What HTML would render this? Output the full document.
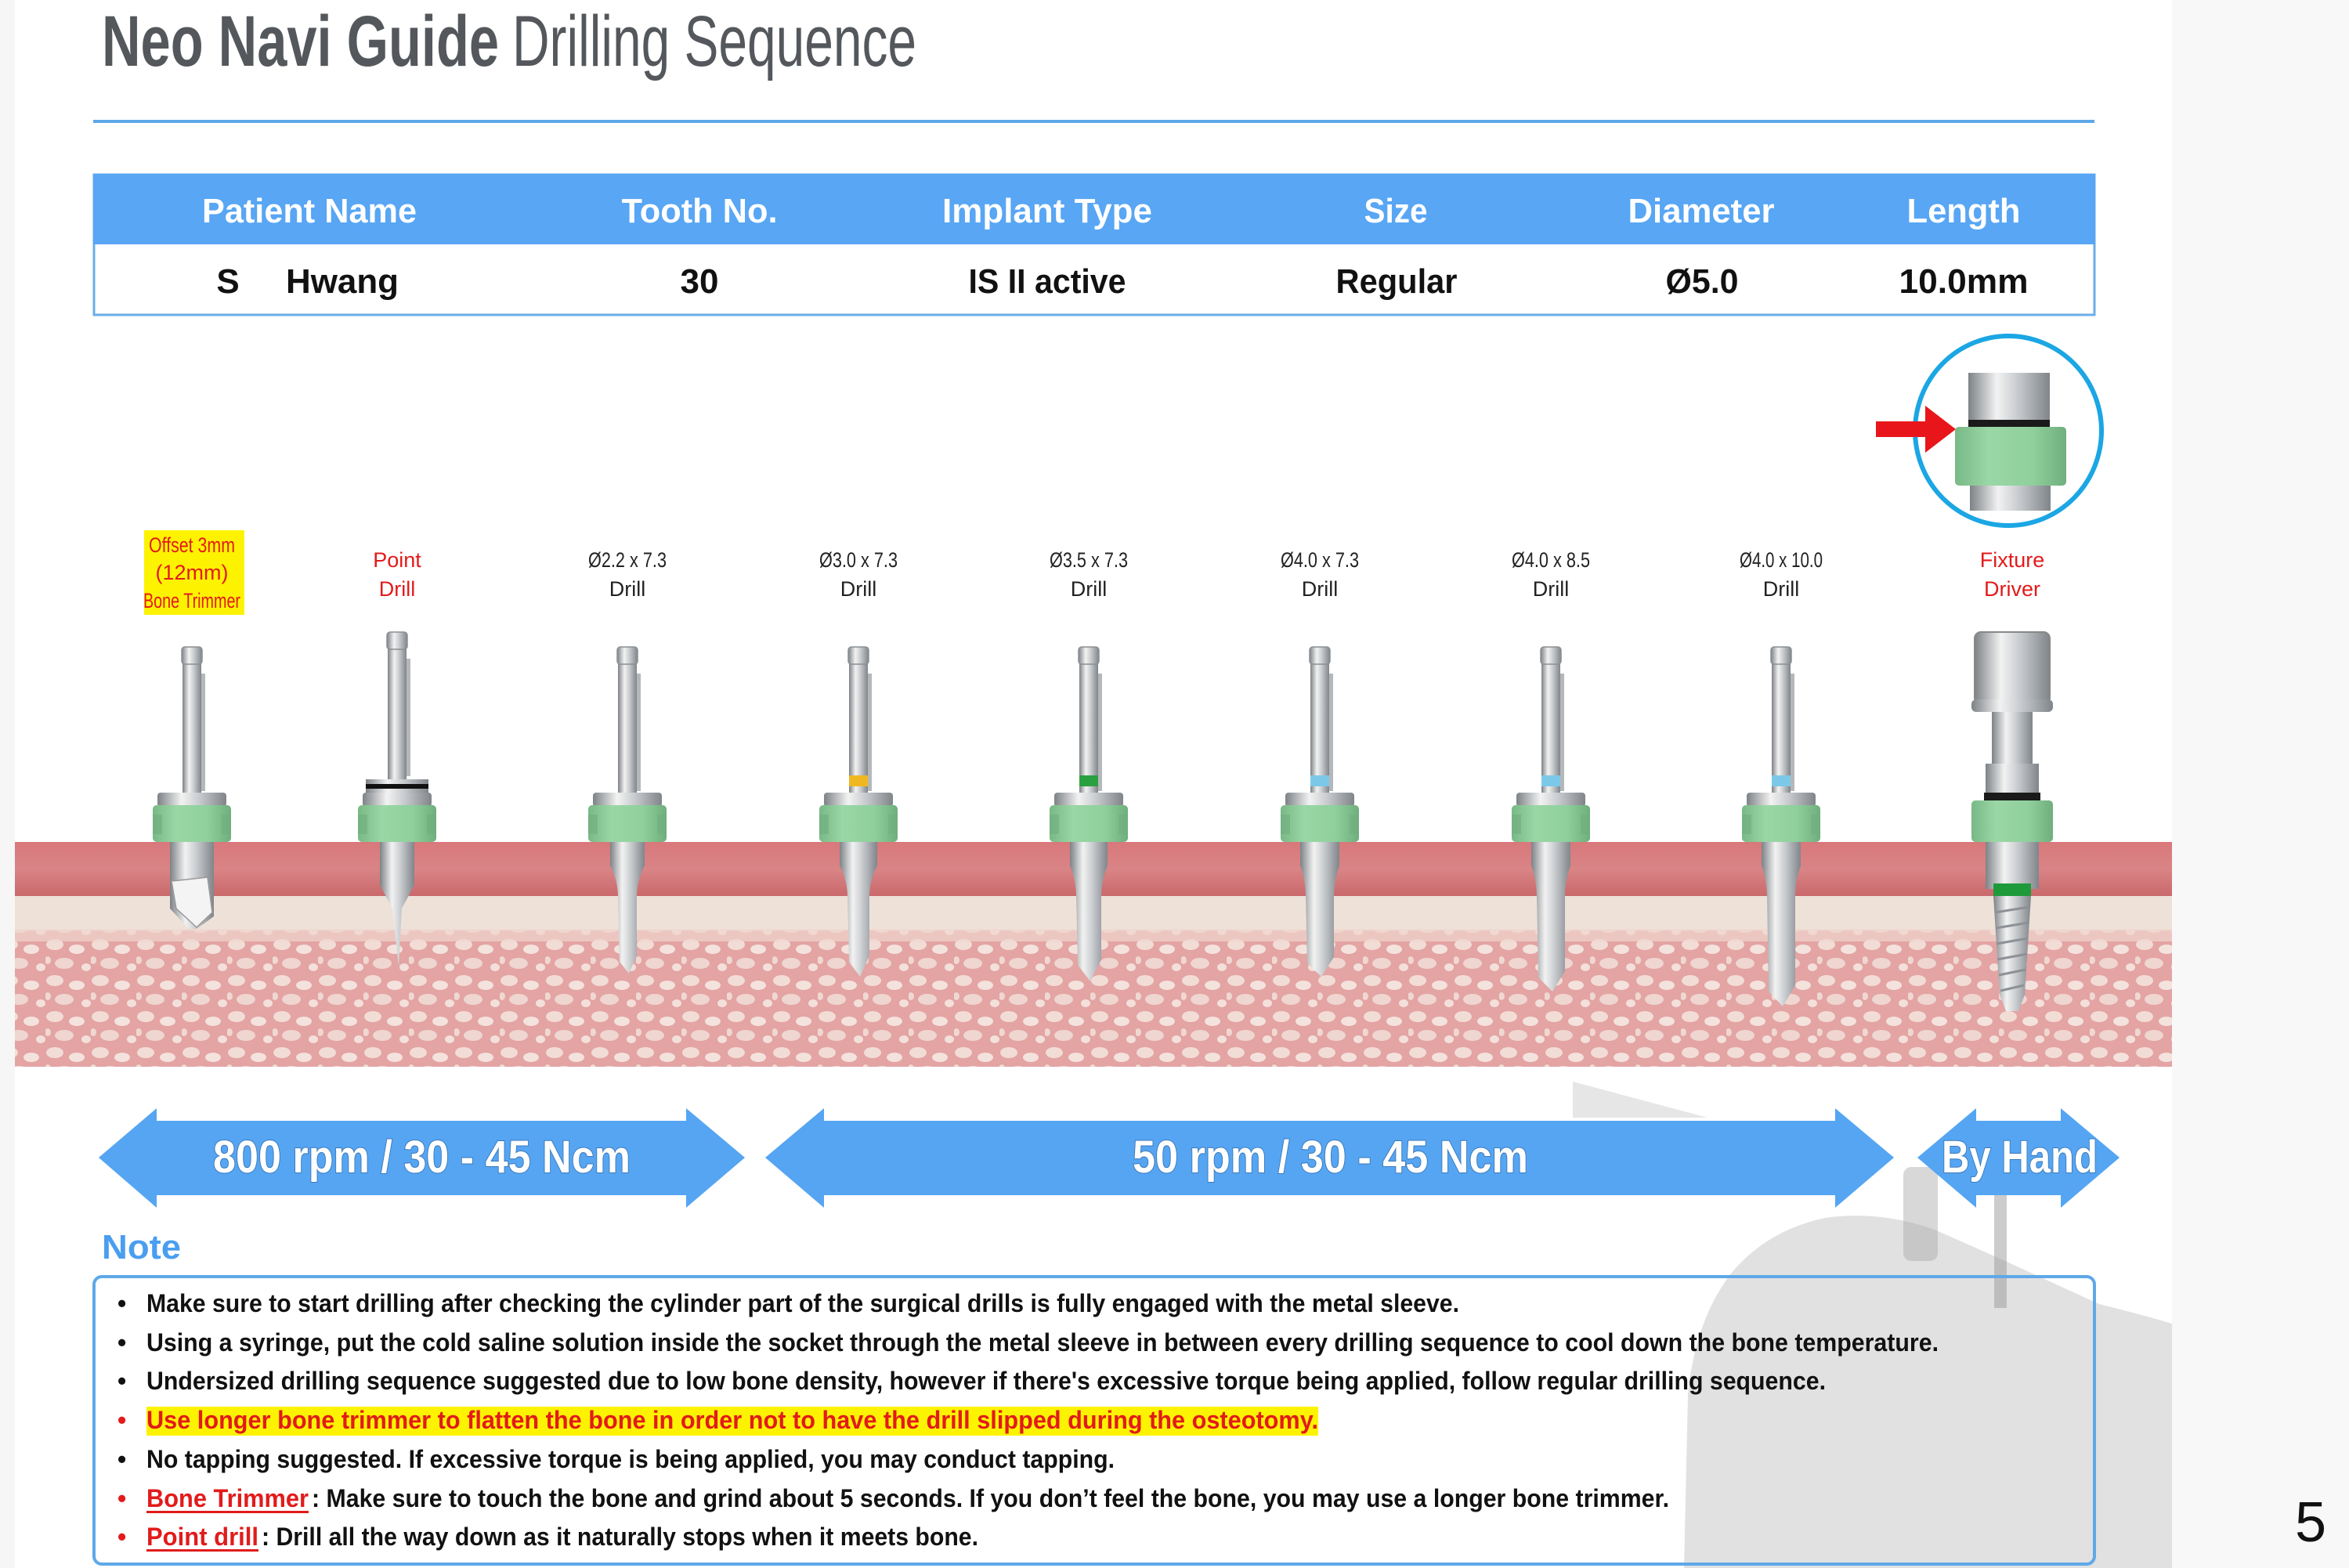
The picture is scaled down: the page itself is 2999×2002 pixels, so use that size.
<!DOCTYPE html>
<html><head><meta charset="utf-8"><style>
html,body{margin:0;padding:0;background:#fff}
svg{display:block}
text{font-family:"Liberation Sans",sans-serif}
</style></head><body>
<svg width="2999" height="2002" viewBox="0 0 2999 2002" xmlns="http://www.w3.org/2000/svg">
<defs>
<linearGradient id="metal" x1="0" x2="1" y1="0" y2="0">
<stop offset="0" stop-color="#7d8286"/><stop offset="0.35" stop-color="#f2f2f2"/><stop offset="0.6" stop-color="#c9cccf"/><stop offset="1" stop-color="#80858a"/></linearGradient>
<linearGradient id="green" x1="0" x2="1"><stop offset="0" stop-color="#78b986"/><stop offset="0.3" stop-color="#9ad7a6"/><stop offset="0.7" stop-color="#8fd09c"/><stop offset="1" stop-color="#6fae7d"/></linearGradient>
<linearGradient id="gum" x1="0" x2="0" y1="0" y2="1"><stop offset="0" stop-color="#d9787b"/><stop offset="0.5" stop-color="#d98486"/><stop offset="1" stop-color="#c9686b"/></linearGradient>
<pattern id="sponge" width="58" height="46" patternUnits="userSpaceOnUse">
<rect width="58" height="46" fill="#e3a4a3"/>
<ellipse cx="12" cy="10" rx="11" ry="7" fill="#f2dcd6"/>
<ellipse cx="40" cy="16" rx="10" ry="6" fill="#f4e2dd"/>
<ellipse cx="24" cy="34" rx="12" ry="7" fill="#efd6d0"/>
<ellipse cx="52" cy="39" rx="6" ry="5" fill="#f3e0da"/>
<ellipse cx="3" cy="30" rx="4" ry="5" fill="#f0d8d2"/>
</pattern>
<g id="shank">
<rect x="-12" y="846" width="24" height="170" fill="url(#metal)"/>
<rect x="12" y="860" width="5" height="150" fill="#b4b8bb"/>
<rect x="-13" y="826" width="26" height="22" rx="4" fill="url(#metal)" stroke="#8a8f93" stroke-width="1.5"/>
</g>
<g id="collar">
<rect x="-44" y="1012" width="88" height="18" rx="4" fill="url(#metal)"/>
<rect x="-50" y="1028" width="100" height="47" rx="5" fill="url(#green)"/>
<rect x="-50" y="1040" width="12" height="25" fill="#6fae7d" opacity="0.6"/>
<rect x="38" y="1040" width="12" height="25" fill="#6fae7d" opacity="0.6"/>
</g>
</defs>

<rect x="0" y="0" width="19" height="2002" fill="#f6f6f6"/>
<rect x="2773" y="0" width="226" height="2002" fill="#f8f8f8"/>

<!-- faint jaw background -->
<polygon points="2008,1381 2180,1427 2008,1427" fill="#e6e6e6"/>
<path d="M2150,2002 L2155,1780 Q2165,1680 2215,1620 Q2260,1570 2330,1555 Q2400,1545 2470,1570 L2560,1610 L2680,1665 Q2740,1680 2773,1690 L2773,2002 Z" fill="#cdcdcd" opacity="0.6"/>
<rect x="2546" y="1440" width="16" height="230" fill="#9a9a9a" opacity="0.5"/>
<rect x="2430" y="1490" width="44" height="120" rx="10" fill="#a8a8a8" opacity="0.45"/>

<!-- title -->
<text x="130" y="84" font-size="92" font-weight="bold" fill="#54585c" textLength="507" lengthAdjust="spacingAndGlyphs">Neo Navi Guide</text>
<text x="654" y="84" font-size="92" fill="#54585c" textLength="516" lengthAdjust="spacingAndGlyphs">Drilling Sequence</text>
<rect x="119" y="153" width="2555" height="4" fill="#5ea8e8"/>

<!-- table -->
<rect x="120" y="223" width="2554" height="179" fill="#fff" stroke="#6aaee8" stroke-width="3"/>
<rect x="119" y="222" width="2556" height="90" fill="#58a6f4"/>
<g font-size="44" font-weight="bold" fill="#fff" text-anchor="middle">
<text x="395" y="284" textLength="274" lengthAdjust="spacingAndGlyphs">Patient Name</text>
<text x="893" y="284" textLength="199" lengthAdjust="spacingAndGlyphs">Tooth No.</text>
<text x="1337" y="284" textLength="268" lengthAdjust="spacingAndGlyphs">Implant Type</text>
<text x="1782" y="284" textLength="81" lengthAdjust="spacingAndGlyphs">Size</text>
<text x="2172" y="284" textLength="187" lengthAdjust="spacingAndGlyphs">Diameter</text>
<text x="2507" y="284" textLength="145" lengthAdjust="spacingAndGlyphs">Length</text>
</g>
<g font-size="44" font-weight="bold" fill="#111" text-anchor="middle">
<text x="291" y="374">S</text>
<text x="437" y="374" textLength="144" lengthAdjust="spacingAndGlyphs">Hwang</text>
<text x="893" y="374">30</text>
<text x="1337" y="374" textLength="201" lengthAdjust="spacingAndGlyphs">IS II active</text>
<text x="1783" y="374" textLength="155" lengthAdjust="spacingAndGlyphs">Regular</text>
<text x="2173" y="374" textLength="93" lengthAdjust="spacingAndGlyphs">Ø5.0</text>
<text x="2507" y="374" textLength="165" lengthAdjust="spacingAndGlyphs">10.0mm</text>
</g>

<!-- inset circle -->
<ellipse cx="2564" cy="550" rx="119" ry="121" fill="#fff" stroke="#1ba6e4" stroke-width="6"/>
<rect x="2513" y="476" width="104" height="62" fill="url(#metal)"/>
<rect x="2513" y="536" width="104" height="10" fill="#1a1a1a"/>
<rect x="2515" y="618" width="103" height="34" fill="url(#metal)"/>
<rect x="2496" y="545" width="142" height="75" rx="5" fill="url(#green)"/>
<polygon points="2395,538 2458,538 2458,518 2497,548 2458,578 2458,558 2395,558" fill="#e8161b"/>

<!-- labels -->
<rect x="184" y="677" width="128" height="108" fill="#fdf300"/>
<g font-size="27" text-anchor="middle" fill="#e21b1b">
<text x="245" y="705" textLength="110" lengthAdjust="spacingAndGlyphs">Offset 3mm</text>
<text x="245" y="740">(12mm)</text>
<text x="245" y="776" textLength="124" lengthAdjust="spacingAndGlyphs">Bone Trimmer</text>
<text x="507" y="724">Point</text>
<text x="507" y="761">Drill</text>
<text x="2569" y="724">Fixture</text>
<text x="2569" y="761">Driver</text>
</g>
<g font-size="27" text-anchor="middle" fill="#222">
<text x="801" y="724" textLength="100" lengthAdjust="spacingAndGlyphs">Ø2.2 x 7.3</text><text x="801" y="761">Drill</text>
<text x="1096" y="724" textLength="100" lengthAdjust="spacingAndGlyphs">Ø3.0 x 7.3</text><text x="1096" y="761">Drill</text>
<text x="1390" y="724" textLength="100" lengthAdjust="spacingAndGlyphs">Ø3.5 x 7.3</text><text x="1390" y="761">Drill</text>
<text x="1685" y="724" textLength="100" lengthAdjust="spacingAndGlyphs">Ø4.0 x 7.3</text><text x="1685" y="761">Drill</text>
<text x="1980" y="724" textLength="100" lengthAdjust="spacingAndGlyphs">Ø4.0 x 8.5</text><text x="1980" y="761">Drill</text>
<text x="2274" y="724" textLength="106" lengthAdjust="spacingAndGlyphs">Ø4.0 x 10.0</text><text x="2274" y="761">Drill</text>
</g>

<!-- bone -->
<rect x="19" y="1075" width="2754" height="287" fill="url(#sponge)"/>
<rect x="19" y="1075" width="2754" height="70" fill="url(#gum)"/>
<rect x="19" y="1144" width="2754" height="44" fill="#eee2d8"/>
<rect x="19" y="1186" width="2754" height="16" fill="#efd6cf" opacity="0.7"/>

<!-- drills -->
<g transform="translate(245,0)"><use href="#shank"/><use href="#collar"/>
<path d="M-28,1075 L28,1075 L28,1170 L6,1186 L-4,1186 L-28,1160 Z" fill="url(#metal)"/>
<path d="M-26,1125 L20,1120 L26,1165 L6,1184 L-20,1160 Z" fill="#f4f4f4" stroke="#999" stroke-width="1.5"/></g>

<g transform="translate(507,-19)"><use href="#shank"/></g>
<g transform="translate(507,0)"><rect x="-40" y="995" width="80" height="20" fill="url(#metal)"/><rect x="-40" y="1001" width="80" height="6" fill="#111"/><use href="#collar"/>
<path d="M-22,1075 L22,1075 L22,1130 L6,1160 L2,1234 L-6,1160 L-22,1130 Z" fill="url(#metal)"/></g>

<g transform="translate(801,0)"><use href="#shank"/><use href="#collar"/>
<path d="M-22,1075 L22,1075 L22,1105 Q12,1125 12,1145 L12,1220 L2,1243 L-10,1228 L-12,1145 Q-12,1125 -22,1105 Z" fill="url(#metal)"/></g>

<g transform="translate(1096,0)"><use href="#shank"/><rect x="-12" y="990" width="24" height="14" fill="#f0b820"/><use href="#collar"/>
<path d="M-24,1075 L24,1075 L24,1105 Q14,1125 14,1145 L14,1220 L2,1247 L-12,1228 L-14,1145 Q-14,1125 -24,1105 Z" fill="url(#metal)"/></g>

<g transform="translate(1390,0)"><use href="#shank"/><rect x="-12" y="990" width="24" height="14" fill="#2aa040"/><use href="#collar"/>
<path d="M-24,1075 L24,1075 L24,1105 Q16,1125 16,1145 L16,1225 L2,1253 L-14,1232 L-16,1145 Q-16,1125 -24,1105 Z" fill="url(#metal)"/></g>

<g transform="translate(1685,0)"><use href="#shank"/><rect x="-12" y="990" width="24" height="14" fill="#7cc8e8"/><use href="#collar"/>
<path d="M-25,1075 L25,1075 L25,1105 Q18,1125 18,1145 L18,1222 L2,1247 L-16,1230 L-18,1145 Q-18,1125 -25,1105 Z" fill="url(#metal)"/></g>

<g transform="translate(1980,0)"><use href="#shank"/><rect x="-12" y="990" width="24" height="14" fill="#7cc8e8"/><use href="#collar"/>
<path d="M-25,1075 L25,1075 L25,1105 Q18,1125 18,1145 L18,1240 L2,1266 L-16,1248 L-18,1145 Q-18,1125 -25,1105 Z" fill="url(#metal)"/></g>

<g transform="translate(2274,0)"><use href="#shank"/><rect x="-12" y="990" width="24" height="14" fill="#7cc8e8"/><use href="#collar"/>
<path d="M-25,1075 L25,1075 L25,1105 Q18,1125 18,1145 L18,1258 L2,1285 L-16,1266 L-18,1145 Q-18,1125 -25,1105 Z" fill="url(#metal)"/></g>

<g transform="translate(2569,0)">
<rect x="-48" y="807" width="96" height="92" rx="8" fill="url(#metal)" stroke="#888" stroke-width="2"/>
<rect x="-52" y="893" width="104" height="16" rx="6" fill="url(#metal)"/>
<rect x="-26" y="909" width="52" height="72" fill="url(#metal)"/>
<rect x="-34" y="975" width="68" height="42" fill="url(#metal)"/>
<rect x="-36" y="1012" width="72" height="10" fill="#1a1a1a"/>
<rect x="-52" y="1022" width="104" height="53" rx="5" fill="url(#green)"/>
<rect x="-34" y="1075" width="68" height="60" fill="url(#metal)"/>
<rect x="-24" y="1128" width="48" height="16" fill="#1e9a3a"/>
<path d="M-24,1144 L24,1144 L16,1270 L8,1291 L-8,1291 L-16,1270 Z" fill="url(#metal)"/>
<g stroke="#8d9196" stroke-width="3"><line x1="-22" y1="1165" x2="22" y2="1158"/><line x1="-21" y1="1185" x2="21" y2="1178"/><line x1="-20" y1="1205" x2="20" y2="1198"/><line x1="-19" y1="1225" x2="19" y2="1218"/><line x1="-17" y1="1245" x2="17" y2="1238"/><line x1="-15" y1="1265" x2="15" y2="1258"/></g>
</g>

<!-- arrows -->
<g fill="#55a5f3">
<polygon points="126,1478 200,1415 200,1431 876,1431 876,1415 951,1478 876,1542 876,1526 200,1526 200,1542"/>
<polygon points="977,1478 1052,1415 1052,1431 2343,1431 2343,1415 2418,1478 2343,1542 2343,1526 1052,1526 1052,1542"/>
<polygon points="2448,1478 2523,1415 2523,1431 2631,1431 2631,1415 2706,1478 2631,1542 2631,1526 2523,1526 2523,1542"/>
</g>
<g font-size="58" font-weight="bold" fill="#fff" style="paint-order:stroke" stroke="#3a78b8" stroke-width="2">
<text x="272" y="1497" textLength="533" lengthAdjust="spacingAndGlyphs">800 rpm / 30 - 45 Ncm</text>
<text x="1446" y="1497" textLength="505" lengthAdjust="spacingAndGlyphs">50 rpm / 30 - 45 Ncm</text>
<text x="2479" y="1497" textLength="199" lengthAdjust="spacingAndGlyphs">By Hand</text>
</g>

<!-- note -->
<text x="130" y="1607" font-size="44" font-weight="bold" fill="#4a9ef0" textLength="101" lengthAdjust="spacingAndGlyphs">Note</text>
<rect x="120" y="1630" width="2554" height="367" rx="10" fill="none" stroke="#5ea8e8" stroke-width="4"/>
<rect x="187" y="1796" width="1496" height="37" fill="#fdf300"/>
<g font-size="32" font-weight="bold" fill="#111">
<text x="150" y="1675">•</text><text x="150" y="1725">•</text><text x="150" y="1774">•</text>
<text x="150" y="1824" fill="#e21b1b">•</text><text x="150" y="1874">•</text>
<text x="150" y="1924" fill="#e21b1b">•</text><text x="150" y="1973" fill="#e21b1b">•</text>
<text x="187" y="1675" textLength="1676" lengthAdjust="spacingAndGlyphs">Make sure to start drilling after checking the cylinder part of the surgical drills is fully engaged with the metal sleeve.</text>
<text x="187" y="1725" textLength="2288" lengthAdjust="spacingAndGlyphs">Using a syringe, put the cold saline solution inside the socket through the metal sleeve in between every drilling sequence to cool down the bone temperature.</text>
<text x="187" y="1774" textLength="2144" lengthAdjust="spacingAndGlyphs">Undersized drilling sequence suggested due to low bone density, however if there's excessive torque being applied, follow regular drilling sequence.</text>
<text x="187" y="1824" fill="#e21b1b" textLength="1496" lengthAdjust="spacingAndGlyphs">Use longer bone trimmer to flatten the bone in order not to have the drill slipped during the osteotomy.</text>
<text x="187" y="1874" textLength="1236" lengthAdjust="spacingAndGlyphs">No tapping suggested. If excessive torque is being applied, you may conduct tapping.</text>
<text x="187" y="1924" fill="#e21b1b" textLength="207" lengthAdjust="spacingAndGlyphs">Bone Trimmer</text>
<text x="398" y="1924" textLength="1733" lengthAdjust="spacingAndGlyphs">: Make sure to touch the bone and grind about 5 seconds. If you don’t feel the bone, you may use a longer bone trimmer.</text>
<text x="187" y="1973" fill="#e21b1b" textLength="143" lengthAdjust="spacingAndGlyphs">Point drill</text>
<text x="334" y="1973" textLength="915" lengthAdjust="spacingAndGlyphs">: Drill all the way down as it naturally stops when it meets bone.</text>
</g>
<rect x="187" y="1929" width="207" height="3" fill="#e21b1b"/>
<rect x="187" y="1978" width="143" height="3" fill="#e21b1b"/>

<text x="2930" y="1968" font-size="72" fill="#111">5</text>
</svg>
</body></html>
